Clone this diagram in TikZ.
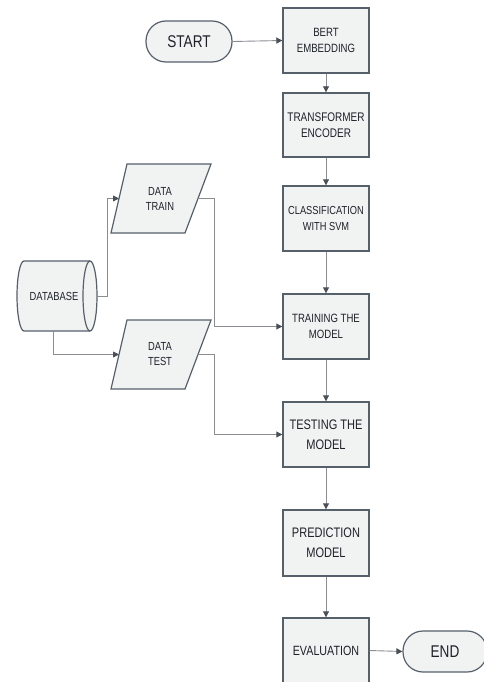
\documentclass[tikz,border=0pt]{standalone}
\usepackage{fontspec}
\setmainfont{Liberation Sans}[FakeStretch=0.8]
\usetikzlibrary{arrows.meta}
\definecolor{bordc}{HTML}{56606B}
\definecolor{fillc}{HTML}{F1F3F3}
\definecolor{linec}{HTML}{8A8E92}
\definecolor{tipc}{HTML}{4A5058}
\definecolor{textc}{HTML}{1E2228}
\tikzset{
  box/.style={draw=bordc, line width=1.4pt, fill=fillc, minimum width=86pt, inner sep=0pt, align=center, text=textc, font=\fontsize{12}{15.5}\selectfont},
  term/.style={draw=bordc, line width=1.2pt, fill=fillc, rounded corners=20pt, minimum height=41pt, inner sep=0pt, text=textc, font=\fontsize{17}{20}\selectfont},
  shp/.style={draw=bordc, line width=1.2pt, fill=fillc},
  lbl/.style={inner sep=0pt, align=center, text=textc, font=\fontsize{11.7}{15}\selectfont},
  arr/.style={draw=linec, line width=0.9pt, -{Triangle[length=6pt,width=6pt,color=tipc,fill=tipc]}},
}
\begin{document}
\begin{tikzpicture}[x=1pt,y=-1pt]
\useasboundingbox (0,0) rectangle (483,682);
\node[term, minimum width=86pt] (start) at (189,41.5) {START};
\node[box, minimum height=65pt] (bert) at (326,40.5) {BERT\\EMBEDDING};
\node[box, minimum height=64pt, font=\fontsize{12.5}{15.5}\selectfont] (trans) at (326,125) {TRANSFORMER\\ENCODER};
\node[box, minimum height=65pt, font=\fontsize{11.6}{15.5}\selectfont] (cls) at (326,218.5) {CLASSIFICATION\\WITH SVM};
\node[box, minimum height=65pt] (train) at (326,326.5) {TRAINING THE\\MODEL};
\node[box, minimum height=65pt, font=\fontsize{13.8}{20}\selectfont] (test) at (326,434.5) {TESTING THE\\MODEL};
\node[box, minimum height=66pt, font=\fontsize{13.8}{20}\selectfont] (pred) at (326,543) {PREDICTION\\MODEL};
\node[box, minimum height=65pt, font=\fontsize{13.4}{16}\selectfont] (eval) at (326,650.5) {EVALUATION};
\node[term, minimum width=84pt] (end) at (445,651.5) {END};
% database cylinder
\draw[shp] (24,261) -- (90,261) arc (-90:90:7 and 35) -- (24,331) arc (90:270:7 and 35) -- cycle;
\draw[shp, fill=none] (90,261) arc (270:90:7 and 35);
\node[lbl] (db) at (54,296) {DATABASE};
\coordinate (dbE) at (97,296);
\coordinate (dbS) at (53,331);
% data train / data test parallelograms
\draw[shp] (127,164) -- (211,164) -- (185,233) -- (111,233) -- cycle;
\node[lbl] (dtrain) at (160,198.5) {DATA\\TRAIN};
\coordinate (dtrainW) at (119,198.5);
\coordinate (dtrainE) at (198,198.5);
\draw[shp] (127,320) -- (211,320) -- (185,389) -- (111,389) -- cycle;
\node[lbl] (dtest) at (160,354.5) {DATA\\TEST};
\coordinate (dtestW) at (119,354.5);
\coordinate (dtestE) at (198,354.5);
% connectors
\draw[arr] (start.east) -- (bert.west);
\draw[arr] (bert) -- (trans);
\draw[arr] (trans) -- (cls);
\draw[arr] (cls) -- (train);
\draw[arr] (train) -- (test);
\draw[arr] (test) -- (pred);
\draw[arr] (pred) -- (eval);
\draw[arr] (eval.east) -- (end.west);
\draw[arr] (dbE) -- ++(10,0) |- (dtrainW);
\draw[arr] (dbS) |- (dtestW);
\draw[arr] (dtrainE) -- ++(16,0) |- (train.west);
\draw[arr] (dtestE) -- ++(16,0) |- (test.west);
\end{tikzpicture}
\end{document}
